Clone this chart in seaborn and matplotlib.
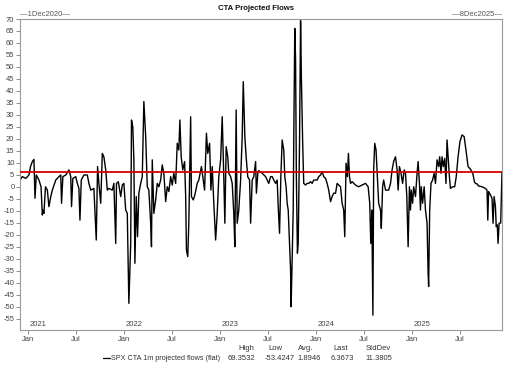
import numpy as np
import pandas as pd
import matplotlib
matplotlib.use("Agg")
import matplotlib.pyplot as plt
import matplotlib.dates as mdates
import matplotlib.transforms as mtransforms
import seaborn as sns

# ---- data ----
start_date = "2020-12-01"
end_date = "2025-12-08"
day_offset = [
    0, 9, 22, 34, 40, 47, 53, 57, 62, 72, 80, 85, 87, 91, 97, 104, 110, 117, 123, 136,
    148, 155, 158, 163, 174, 186, 193, 196, 201, 212, 218, 224, 228, 233, 243, 256, 262, 269, 281, 290,
    295, 300, 307, 313, 319, 326, 332, 338, 351, 357, 364, 367, 374, 379, 383, 389, 395, 402, 408, 414,
    421, 424, 429, 433, 437, 442, 447, 452,
    459, 465, 471, 478, 484, 490, 497, 500, 503, 509, 516, 522, 528, 535, 541, 547, 554, 560, 566, 573,
    579, 585, 592, 598, 604, 608, 613, 619, 626, 630, 633, 638, 642, 649, 652, 659, 665, 674, 680, 690,
    695, 702, 709, 714, 721, 726, 731, 737, 744, 750, 756, 763, 769, 775, 779, 784, 790, 794, 801, 807,
    813, 817, 822, 826, 832, 839, 845, 849, 855, 860, 866, 873, 877, 883, 889, 896, 899, 905,
    908, 921, 934, 946, 953, 959, 965, 972, 978, 982, 987, 992, 997, 1003, 1007, 1012, 1016, 1020, 1025, 1029,
    1031, 1035, 1039, 1041, 1045, 1048, 1051, 1055, 1058, 1063, 1067, 1070, 1075, 1079, 1086, 1092, 1098, 1105, 1111, 1117,
    1130, 1136, 1143, 1149, 1155, 1162, 1168, 1174, 1181, 1187, 1193, 1200, 1206, 1212, 1219, 1225, 1231, 1235, 1240, 1245,
    1249, 1253, 1257, 1263, 1276, 1288, 1301, 1314, 1324, 1330, 1334, 1338, 1342, 1345, 1349, 1354, 1359, 1364,
    1371, 1374, 1379, 1383, 1390, 1402, 1409, 1415, 1421, 1428, 1434, 1438, 1443, 1449, 1455, 1461, 1466, 1471, 1476, 1481,
    1485, 1488, 1493, 1497, 1504, 1510, 1514, 1519, 1523, 1526, 1531, 1537, 1542, 1548, 1552, 1554, 1558, 1563, 1569, 1575,
    1580, 1586, 1592, 1596, 1601, 1605, 1610, 1615, 1620, 1624, 1628, 1633, 1637, 1645, 1653, 1659, 1666, 1673, 1681, 1689,
    1696, 1704, 1713, 1722, 1728, 1732, 1738, 1744, 1757, 1770, 1776, 1779, 1782, 1789, 1795, 1799, 1803, 1808, 1811, 1815,
    1818, 1822, 1828, 1833,
]
flows = [
    2.9, 4.3, 3.6, 5.0, 8.5, 10.6, 11.5, -4.7, 5.0, 2.9, 0.1, -11.7, -9.6, -11.0, 0.1, -1.3, -8.2, -4.0, -1.3, 2.9,
    4.3, 5.0, -6.8, 4.3, 5.0, 7.1, 4.3, -8.2, 3.6, 4.3, 1.5, -0.6, -13.8, 2.9, 5.0, 5.0, 1.5, -1.3, -0.6, -22.1,
    8.5, 1.5, -6.8, 14.0, 12.6, 7.1, -1.3, -0.6, -1.3, 1.5, -23.5, 1.5, 2.2, -1.3, -4.0, 0.8, 1.5, -9.6, -11.0, -48.5,
    -23.5, 27.9, 25.1, 11.3, -31.8, -4.0, -20.7, -2.6,
    1.5, 4.3, 35.6, 21.0, 0.1, -1.3, -15.1, -24.9, 11.3, -11.0, -5.4, 1.5, 0.1, 2.9, 9.2, 5.7, -6.1, 0.1, -1.9, 4.3,
    0.8, 5.7, 1.5, 18.2, 15.4, 27.9, 12.6, 7.1, 10.6, -4.0, -26.3, -29.0, -15.1, 29.3, -4.0, -5.4, -3.3, 1.5, 2.9, 8.5,
    4.3, -1.3, 22.4, 14.0, 18.2, -1.3, 8.5, -6.8, -22.1, -11.0, 4.3, 11.3, 29.3, 4.3, -15.1, 16.8, 12.6, 5.7, 4.3, 1.5,
    -11.0, -24.9, 32.1, -15.1, -9.6, 2.9, 21.0, 43.9, 21.0, 12.6, 4.3, 2.9, -15.1, 2.9, 4.3, 10.6, -2.6, 6.4,
    6.8, 5.7, 4.3, 1.5, 4.3, 4.3, 2.9, 1.5, 2.9, -8.2, -19.3, 4.3, 19.6, 15.4, 4.3, 0.1, -6.8, -9.6, -23.5, -34.6,
    -49.9, -29.0, -9.6, 18.2, 66.1, 52.9, 4.3, -27.6, -23.5, 18.2, 69.35, 46.0, 18.2, 1.5, 0.8, 1.5, 1.5, 2.2, 1.5, 2.9,
    2.9, 4.3, 5.0, 6.4, 4.3, 3.6, 1.5, -1.3, -6.1, -4.0, -2.6, -2.6, 1.5, 0.8, 0.1, -6.8, -9.6, -20.7, 9.9, 4.3,
    14.0, 4.3, 1.5, 2.2, 0.8, 0.1, 0.8, 1.5, 0.1, -6.8, -23.5, -9.6, -53.42, 7.1, 18.2, 15.4, 4.3, -6.8,
    -9.6, -17.2, 0.1, 2.9, -1.3, -1.3, 1.5, 7.1, 10.6, 12.6, 7.1, -1.3, 8.5, 5.7, 1.5, 7.1, 5.7, -4.0, -24.9, 0.1,
    -9.6, -1.3, -6.8, 0.1, -4.0, 5.7, 10.6, 1.5, -9.6, 0.1, -6.8, 0.1, -9.6, -15.1, -36.0, -41.5, -9.6, 1.5, 2.9, 5.7,
    1.5, 11.3, 8.5, 12.6, 5.7, 12.6, 8.5, 11.9, 1.5, 19.6, 12.6, 4.3, -0.6, 0.1, 0.1, 4.3, 12.6, 18.9, 21.7, 21.0,
    15.4, 8.5, 7.4, 5.7, 2.2, 1.5, 1.3, 0.4, 0.1, -0.6, -1.3, -13.8, -1.9, -3.3, -4.7, -15.1, -4.0, -8.2, -16.5, -15.8,
    -23.5, -15.1, -15.0, 6.37,
]
last_value = 6.3673
stat_names = ["High", "Low", "Avg.", "Last", "StdDev"]
stat_values = ["69.3532", "-53.4247", "1.8946", "6.3673", "11.3805"]
series_label = "SPX CTA 1m projected flows (flat)"
title = "CTA Projected Flows"
y_ticks = list(range(-55, 75, 5))
year_labels = ["2021", "2022", "2023", "2024", "2025"]

df = pd.DataFrame({
    "date": pd.Timestamp(start_date) + pd.to_timedelta(day_offset, unit="D"),
    "flows": flows,
})

# ---- figure ----
sns.set_theme(style="white")
plt.rcParams["font.family"] = ["Liberation Sans", "DejaVu Sans"]

fig = plt.figure(figsize=(5.12, 3.72), dpi=100)
ax = fig.add_axes([20 / 512, 1 - 330 / 372, 482 / 512, 311 / 372])

sns.lineplot(data=df, x="date", y="flows", ax=ax, color="black", lw=1.0, estimator=None)
ax.axhline(last_value, color="#d80000", lw=1.3, zorder=3)

ax.set_xlim(pd.Timestamp(start_date), pd.Timestamp(end_date))
ax.set_ylim(-59.6, 70)
ax.set_xlabel("")
ax.set_ylabel("")

ax.set_yticks(y_ticks)
ax.set_yticklabels([str(t) for t in y_ticks])
ax.xaxis.set_major_locator(mdates.MonthLocator(bymonth=[1, 7]))
ax.xaxis.set_major_formatter(mdates.DateFormatter("%b"))

ax.tick_params(axis="both", which="both", direction="out", length=3, width=0.6,
               color="#777777", labelsize=5.5, labelcolor="#444444", pad=1)
ax.tick_params(axis="x", bottom=True)
ax.tick_params(axis="y", left=True)
for s in ax.spines.values():
    s.set_color("#9a9a9a")
    s.set_linewidth(0.8)

# year labels inside the plot above the bottom edge
trans = mtransforms.blended_transform_factory(ax.transData, ax.transAxes)
for yl in year_labels:
    ax.text(pd.Timestamp(f"{yl}-01-01") + pd.Timedelta(days=4), 0.006, yl, transform=trans,
            ha="left", va="bottom", fontsize=5.5, color="#444444")

# title and date range labels
fig.text(0.5, 1 - 8 / 372, title, ha="center", va="center", fontsize=5.6,
         fontweight="bold", color="#111111")
fig.text(20 / 512, 1 - 15 / 372, "\u20141Dec2020\u2014", ha="left", va="center",
         fontsize=5.5, color="#555555")
fig.text(502 / 512, 1 - 15 / 372, "\u20148Dec2025\u2014", ha="right", va="center",
         fontsize=5.5, color="#555555")

# legend / stats block
fig.lines.append(plt.Line2D([103 / 512, 110 / 512], [1 - 358 / 372, 1 - 358 / 372],
                            transform=fig.transFigure, color="black", lw=0.9))
fig.text(111 / 512, 1 - 358 / 372, series_label, ha="left", va="center",
         fontsize=5.2, color="#333333")
head_x = [254, 268, 298, 333, 366]
head_ha = ["right", "left", "left", "left", "left"]
val_x = [255, 265, 297, 331, 365]
val_ha = ["right", "left", "left", "left", "left"]
for n, v, hx, hh, vx, vh in zip(stat_names, stat_values, head_x, head_ha, val_x, val_ha):
    fig.text(hx / 512, 1 - 349 / 372, n, ha=hh, va="center", fontsize=5.5, color="#333333")
    fig.text(vx / 512, 1 - 358 / 372, v, ha=vh, va="center", fontsize=5.5, color="#333333")

fig.savefig("out.png", dpi=100, facecolor="white")
